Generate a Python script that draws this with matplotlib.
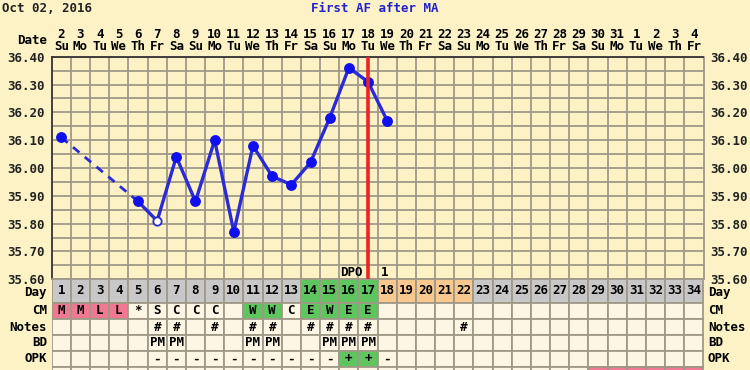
import matplotlib
matplotlib.use("Agg")
import matplotlib.pyplot as plt
import matplotlib.transforms as mtransforms
import numpy as np

# cycle days, calendar dates (Oct 02 - Nov 04) and weekdays
days = list(range(1, 35))
dates = list(range(2, 32)) + [1, 2, 3, 4]
weekdays = ["Su", "Mo", "Tu", "We", "Th", "Fr", "Sa"] * 5

# temperatures (nan = no reading)
temp_days = [1, 5, 6, 7, 8, 9, 10, 11, 12, 13, 14, 15, 16, 17, 18]
temps = [36.11, 35.88, 35.81, 36.04, 35.88, 36.10, 35.77, 36.08,
         35.97, 35.94, 36.02, 36.18, 36.36, 36.31, 36.17]
open_day = 6          # discarded / open-circle reading
ovulation_day = 17    # red line

cm = ["M", "M", "L", "L", "*", "S", "C", "C", "C", "", "W", "W", "C",
      "E", "W", "E", "E"] + [""] * 17
notes_days = [6, 7, 9, 11, 12, 14, 15, 16, 17, 22]
bd_days = [6, 7, 11, 12, 15, 16, 17]
opk = [""] * 5 + ["-"] * 10 + ["+", "+", "-"] + [""] * 16
fertile_days = [14, 15, 16, 17]
luteal_days = [18, 19, 20, 21, 22]
next_period_days = [29, 30, 31, 32, 33, 34]

# colours
BG = "#fdf2c6"
CELL = "#fdf6e4"
GRID = "#9f9987"
GRAY = "#c8c8c8"
GREEN = "#5fc65f"
PINK = "#f07891"
ORANGE = "#f9c88e"
BLUE = "#2b2bd6"

W, H = 750, 370
fig = plt.figure(figsize=(7.5, 3.7), dpi=100, facecolor=BG)
FONT = dict(family="DejaVu Sans Mono", fontweight="bold", fontsize=9)

x0, x1 = 51.7, 703.5
y_top, y_chart = 56.7, 279.3

# ---- temperature chart ----
ax = fig.add_axes([x0 / W, 1 - y_chart / H, (x1 - x0) / W, (y_chart - y_top) / H])
ax.set_facecolor(BG)
ax.set_xlim(0.5, 34.5)
ax.set_ylim(35.60, 36.40)
ax.set_xticks([d + 0.5 for d in days[:-1]], minor=True)
ax.set_xticks([])
ax.set_yticks(np.round(np.arange(35.60, 36.401, 0.10), 2))
ax.set_yticks(np.round(np.arange(35.65, 36.40, 0.10), 2), minor=True)
ax.set_yticklabels(["%.2f" % v for v in ax.get_yticks()], **FONT)
ax.tick_params(axis="y", which="both", length=0, labelright=True,
               pad=4.5, colors="#222222")
ax.tick_params(axis="y", which="major", pad=5)
ax.tick_params(axis="x", which="both", length=0)
ax.grid(True, which="both", color=GRID, linewidth=1.3)
ax.set_axisbelow(True)
for s in ["top", "left"]:
    ax.spines[s].set_color("#333333")
    ax.spines[s].set_linewidth(1.3)
for s in ["right", "bottom"]:
    ax.spines[s].set_color(GRID)
    ax.spines[s].set_linewidth(1.3)

td = np.array(temp_days)
tv = np.array(temps)
# dashed gap before the first run of readings
ax.plot(td[:2], tv[:2], color=BLUE, lw=2, ls=(0, (3, 2.5)), zorder=3)
ax.plot(td[1:], tv[1:], color=BLUE, lw=2.4, zorder=3)
solid = td != open_day
ax.plot(td[solid], tv[solid], "o", color="#1010ee", ms=6.8, zorder=4)
ax.plot(td[~solid], tv[~solid], "o", mfc="white", mec=BLUE, mew=1.3, ms=6, zorder=4)
ax.axvline(ovulation_day, color="#ee2222", lw=2.6, zorder=5)
ax.text(ovulation_day - 0.3, 35.625, "DPO", ha="right", va="center", **FONT)
ax.text(ovulation_day + 0.85, 35.625, "1", ha="center", va="center", **FONT)

# date header above the chart
tr = mtransforms.blended_transform_factory(ax.transData, fig.transFigure)
for d, dt, wd in zip(days, dates, weekdays):
    ax.text(d, 1 - 34 / H, str(dt), transform=tr, ha="center", va="center", **FONT)
    ax.text(d, 1 - 46 / H, wd, transform=tr, ha="center", va="center", **FONT)
fig.text(47 / W, 1 - 40 / H, "Date", ha="right", va="center", **FONT)
fig.text(2 / W, 1 - 8 / H, "Oct 02, 2016", ha="left", va="center", color="#222222", **FONT)
fig.text(375 / W, 1 - 8 / H, "First AF after MA", ha="center", va="center",
         color="#2222cc", **FONT)

# ---- table below the chart ----
row_names = ["Day", "CM", "Notes", "BD", "OPK", ""]
row_h = [1.46, 1.04, 0.98, 1.0, 0.98, 1.0]
edges = np.concatenate([[0], np.cumsum(row_h)])
unit = 16.0
t_bottom = y_chart + edges[-1] * unit
tx = fig.add_axes([x0 / W, 1 - t_bottom / H, (x1 - x0) / W, (t_bottom - y_chart) / H])
tx.set_xlim(0.5, 34.5)
tx.set_ylim(edges[-1], 0)
tx.axis("off")

day_cols = [GREEN if d in fertile_days else ORANGE if d in luteal_days else GRAY
            for d in days]
cm_cols = [PINK if c in ("M", "L") else GREEN if c in ("W", "E") else CELL for c in cm]
opk_cols = [GREEN if o == "+" else CELL for o in opk]
last_cols = [PINK if d in next_period_days else CELL for d in days]
row_cols = [day_cols, cm_cols, [CELL] * 34, [CELL] * 34, opk_cols, last_cols]
row_text = [[str(d) for d in days], cm,
            ["#" if d in notes_days else "" for d in days],
            ["PM" if d in bd_days else "" for d in days],
            opk, [""] * 34]

for i in range(len(row_names)):
    yc = (edges[i] + edges[i + 1]) / 2
    tx.barh(yc, [1] * 34, left=[d - 0.5 for d in days], height=row_h[i],
            color=row_cols[i], edgecolor=GRID, linewidth=1.3)
    for d, t in zip(days, row_text[i]):
        if t:
            tx.text(d, yc, t, ha="center", va="center", **FONT)
    if row_names[i]:
        ty = 1 - (y_chart + yc * unit) / H
        if i == 0:
            ty -= 1.5 / H
        fig.text(47 / W, ty, row_names[i], ha="right", va="center", **FONT)
        fig.text(708 / W, ty, row_names[i], ha="left", va="center", **FONT)

fig.savefig("out.png", dpi=100, facecolor=BG)
